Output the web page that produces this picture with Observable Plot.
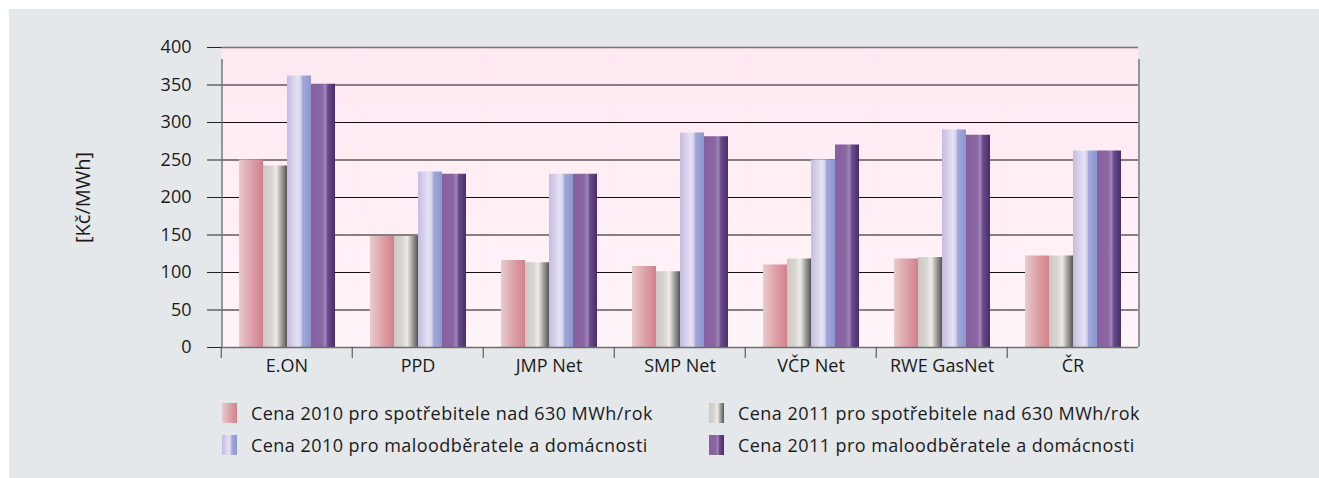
<!DOCTYPE html>
<html>
<head>
<meta charset="utf-8">
<script src="https://cdn.jsdelivr.net/npm/d3@7"></script>
<script src="https://cdn.jsdelivr.net/npm/@observablehq/plot@0.6"></script>
<style>
  html, body { margin: 0; padding: 0; background: #ffffff; }
  #panel { position: absolute; left: 9px; top: 9px; width: 1310px; height: 469px; background: #e5e8ea; font-family: "Open Sans", sans-serif; }
  #chart { position: absolute; left: 0; top: 0; }
  .item { position: absolute; display: flex; align-items: center; height: 20px; font-size: 18px; letter-spacing: 0.45px; color: #1a1a1a; white-space: nowrap; }
  .sw { width: 15px; height: 20px; margin-right: 14px; flex: none; }
</style>
</head>
<body>
<div id="panel"><div id="chart"></div><div id="legend"></div></div>
<script>
const categories = ["E.ON", "PPD", "JMP Net", "SMP Net", "VČP Net", "RWE GasNet", "ČR"];
const seriesNames = [
  "Cena 2010 pro spotřebitele nad 630 MWh/rok",
  "Cena 2011 pro spotřebitele nad 630 MWh/rok",
  "Cena 2010 pro maloodběratele a domácnosti",
  "Cena 2011 pro maloodběratele a domácnosti"
];
const cena2010Nad630 = [250, 148, 116, 108, 110, 118, 122];
const cena2011Nad630 = [242, 148, 113, 101, 118, 120, 122];
const cena2010Malo = [362, 234, 231, 286, 250, 290, 262];
const cena2011Malo = [351, 231, 231, 281, 270, 283, 262];
const seriesValues = [cena2010Nad630, cena2011Nad630, cena2010Malo, cena2011Malo];
const yTicks = [0, 50, 100, 150, 200, 250, 300, 350, 400];

// gradient stops for each series (horizontal shading)
const gradients = [
  [[0, "#e9cbce"], [0.5, "#dea3aa"], [1, "#d2808b"]],
  [[0, "#cdc8c4"], [0.35, "#d9d5d1"], [0.55, "#efece8"], [0.75, "#a8a6a3"], [1, "#555555"]],
  [[0, "#c4bcdf"], [0.45, "#e6e2f3"], [0.58, "#d4d2ec"], [0.65, "#a3a8d8"], [1, "#8b97cf"]],
  [[0, "#8860a0"], [0.45, "#8a66a2"], [0.6, "#a085b8"], [0.7, "#6a4a8b"], [1, "#4a2d6d"]]
];

const W = 1150, ML = 210, MR = 19, MT = 38, MB = 40, H = 378;
const xPad = 0.72;
const fxStep = (W - ML - MR) / categories.length;
const xStep = fxStep / (seriesNames.length + 2 * xPad);
const edge = (xPad + 0.5) * xStep;

function defs() {
  const d = d3.create("svg:defs");
  gradients.forEach((stops, i) => {
    const g = d.append("linearGradient").attr("id", "g" + i).attr("x1", 0).attr("x2", 1).attr("y1", 0).attr("y2", 0);
    stops.forEach(([o, c]) => g.append("stop").attr("offset", o).attr("stop-color", c));
  });
  const bg = d.append("linearGradient").attr("id", "bg").attr("x1", 0).attr("x2", 0).attr("y1", 0).attr("y2", 1);
  bg.append("stop").attr("offset", 0).attr("stop-color", "#ffe8f1");
  bg.append("stop").attr("offset", 1).attr("stop-color", "#fff5f9");
  return d.node();
}

const bars = seriesValues.map((vals, si) =>
  Plot.barY(categories, {
    fx: d => d,
    x: () => seriesNames[si],
    y: (d, i) => vals[i],
    fill: `url(#g${si})`
  })
);

const chart = Plot.plot({
  width: W, height: H,
  marginLeft: ML, marginRight: MR, marginTop: MT, marginBottom: MB,
  style: { background: "transparent", fontFamily: "Open Sans, sans-serif", fontSize: "18px", color: "#1a1a1a" },
  fx: { domain: categories, padding: 0, label: null, axis: null },
  x: { domain: seriesNames, paddingInner: 0, paddingOuter: xPad, axis: null },
  y: { domain: [0, 400], ticks: yTicks, label: null },
  marks: [
    defs,
    Plot.frame({ fill: "url(#bg)", stroke: null }),
    Plot.ruleY(yTicks.filter(t => t !== 0 && t !== 400), { stroke: "#111111", strokeWidth: 1.1 }),
    Plot.ruleY([400], { stroke: "#757575", strokeWidth: 1.4 }),
    ...bars,
    Plot.ruleY([0], { stroke: "#6e6e6e", strokeWidth: 1.6 }),
    Plot.axisY({ ticks: yTicks, tickSize: 14, tickPadding: 16, stroke: "#222222", fontSize: 18, label: null }),
    Plot.axisY({ ticks: [], tickSize: 0, label: "[Kč/MWh]", labelAnchor: "center", labelOffset: 146, labelArrow: "none", fontSize: 20 }),
    Plot.axisFx({ anchor: "bottom", tickSize: 0, tickPadding: 12, fontSize: 18, label: null }),
    Plot.axisFx({ anchor: "bottom", tickSize: 11, tickFormat: () => "", dx: -fxStep / 2, stroke: "#444", label: null }),
    Plot.ruleX([seriesNames[0]], { fx: () => categories[0], x: d => d, y1: 0, y2: 400, dx: -edge, insetBottom: -12, stroke: "#707070", strokeWidth: 1.4 }),
    Plot.ruleX([seriesNames[3]], { fx: () => categories[categories.length - 1], x: d => d, y1: 0, y2: 400, dx: edge, insetBottom: -12, stroke: "#707070", strokeWidth: 1.4 })
  ]
});
document.getElementById("chart").appendChild(chart);

// legend
const legend = document.getElementById("legend");
const positions = [[213, 394], [700, 394], [213, 426], [700, 426]];
seriesNames.forEach((name, i) => {
  const item = document.createElement("div");
  item.className = "item";
  item.style.left = positions[i][0] + "px";
  item.style.top = positions[i][1] + "px";
  const sw = document.createElement("div");
  sw.className = "sw";
  sw.style.background = "linear-gradient(to right, " + gradients[i].map(([o, c]) => c + " " + (o * 100) + "%").join(", ") + ")";
  const t = document.createElement("span");
  t.textContent = name;
  item.appendChild(sw);
  item.appendChild(t);
  legend.appendChild(item);
});
</script>
</body>
</html>
